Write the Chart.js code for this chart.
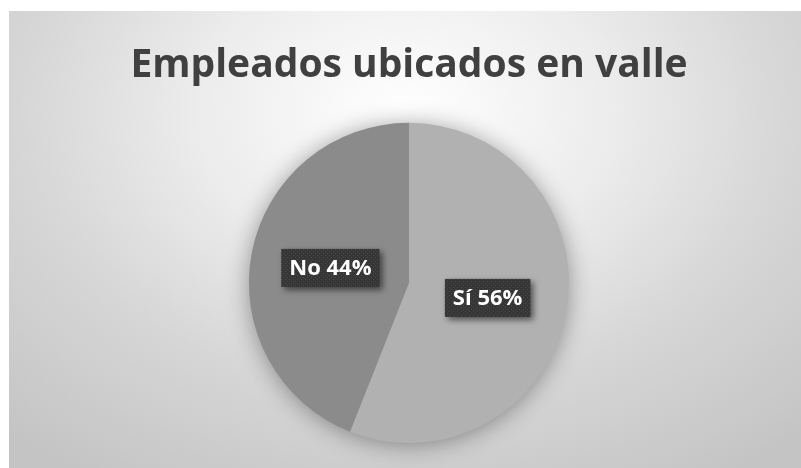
<!DOCTYPE html>
<html>
<head>
<meta charset="utf-8">
<script src="https://cdn.jsdelivr.net/npm/chart.js@4.4.0/dist/chart.umd.min.js"></script>
<style>
  html, body { margin: 0; padding: 0; background: #fff; }
  #panel {
    position: absolute; left: 9px; top: 11px; width: 792px; height: 457px;
    background: radial-gradient(ellipse 75% 95% at 50% 22%, #ffffff 0%, #ececec 35%, #d6d6d6 65%, #c4c4c4 100%);
  }
</style>
</head>
<body>
<div id="panel"><canvas id="Pie_Chart"></canvas></div>
<script>
// Daten
const categorias = ['Sí', 'No'];
const valores = [56, 44];
const colores = ['#b1b1b1', '#8b8b8b'];

// Muster fuer die Etiketten-Boxen (dunkel, gepunktet)
function musterErzeugen(ctx) {
    const c = document.createElement('canvas');
    c.width = 4; c.height = 4;
    const p = c.getContext('2d');
    p.fillStyle = '#363636';
    p.fillRect(0, 0, 4, 4);
    p.fillStyle = '#4a4a4a';
    p.fillRect(0, 0, 1, 1);
    p.fillRect(2, 2, 1, 1);
    return ctx.createPattern(c, 'repeat');
}

// Schatten um den Kreis
const schattenPlugin = {
    id: 'schatten',
    beforeDatasetsDraw(chart) {
        const arc = chart.getDatasetMeta(0).data[0];
        if (!arc) return;
        const ctx = chart.ctx;
        ctx.save();
        ctx.shadowColor = 'rgba(0,0,0,0.4)';
        ctx.shadowBlur = 24;
        ctx.shadowOffsetY = 2;
        ctx.fillStyle = colores[0];
        ctx.beginPath();
        ctx.arc(arc.x, arc.y, arc.outerRadius - 1, 0, Math.PI * 2);
        ctx.fill();
        ctx.restore();
    }
};

// Beschriftungen der Segmente
const etikettenPlugin = {
    id: 'etiketten',
    afterDatasetsDraw(chart) {
        const ctx = chart.ctx;
        const summe = valores.reduce((a, b) => a + b, 0);
        const muster = musterErzeugen(ctx);
        chart.getDatasetMeta(0).data.forEach((arc, i) => {
            const pos = arc.getCenterPoint();
            const text = categorias[i] + ' ' + Math.round(valores[i] / summe * 100) + '%';
            ctx.save();
            ctx.font = 'bold 22px "Open Sans"';
            const w = ctx.measureText(text).width + 16;
            const h = 38;
            ctx.shadowColor = 'rgba(0,0,0,0.55)';
            ctx.shadowBlur = 6;
            ctx.shadowOffsetX = 3;
            ctx.shadowOffsetY = 3;
            ctx.fillStyle = muster;
            ctx.fillRect(pos.x - w / 2, pos.y - h / 2, w, h);
            ctx.shadowColor = 'transparent';
            ctx.fillStyle = '#ffffff';
            ctx.textAlign = 'center';
            ctx.textBaseline = 'middle';
            ctx.fillText(text, pos.x, pos.y + 1);
            ctx.restore();
        });
    }
};

const chart = new Chart(document.getElementById('Pie_Chart'), {
    type: 'pie',
    data: {
        labels: categorias,
        datasets: [{
            data: valores,
            backgroundColor: colores,
            borderWidth: 0
        }]
    },
    options: {
        responsive: true,
        maintainAspectRatio: false,
        animation: false,
        layout: { padding: { left: 8, right: 0, top: 0, bottom: 25 } },
        plugins: {
            legend: { display: false },
            tooltip: { enabled: false },
            title: {
                display: true,
                text: 'Empleados ubicados en valle',
                color: '#404040',
                font: { family: 'Open Sans', size: 39, weight: 'bold', lineHeight: 1.2 },
                padding: { top: 31, bottom: 34 }
            }
        }
    },
    plugins: [schattenPlugin, etikettenPlugin]
});
</script>
</body>
</html>
